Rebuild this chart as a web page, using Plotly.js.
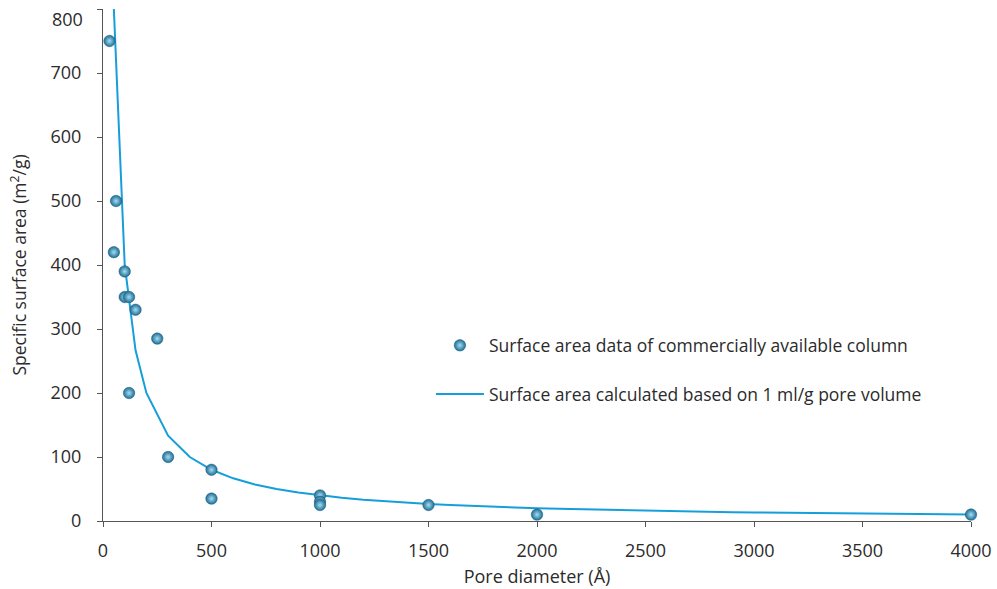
<!DOCTYPE html>
<html>
<head>
<meta charset="utf-8">
<script src="https://cdn.plot.ly/plotly-3.0.1.min.js"></script>
<style>html,body{margin:0;padding:0;background:#fff;}#chart{width:997px;height:589px;}</style>
</head>
<body>
<div id="chart"></div>
<script>
// Measured surface area data (pore diameter in Å, surface area in m²/g)
const dataDiameter = [30, 60, 50, 100, 100, 120, 150, 250, 120, 300, 500, 500, 1000, 1000, 1000, 1500, 2000, 4000];
const dataArea     = [750, 500, 420, 390, 350, 350, 330, 285, 200, 100, 80, 35, 40, 30, 25, 25, 10, 10];

// Calculated curve (1 ml/g pore volume)
const calcDiameter = [50, 100, 150, 200, 300, 400, 500, 600, 700, 800, 900, 1000, 1100, 1200, 1300, 1400, 1500, 1600, 1700, 1800, 1900, 2000, 2100, 2200, 2300, 2400, 2500, 2600, 2700, 2800, 2900, 3000, 3100, 3200, 3300, 3400, 3500, 3600, 3700, 3800, 3900, 4000];
const calcArea     = [800, 400, 266.7, 200, 133.3, 100, 80, 66.7, 57.1, 50, 44.4, 40, 36.4, 33.3, 30.8, 28.6, 26.7, 25, 23.5, 22.2, 21.1, 20, 19.0, 18.2, 17.4, 16.7, 16, 15.4, 14.8, 14.3, 13.8, 13.3, 12.9, 12.5, 12.1, 11.8, 11.4, 11.1, 10.8, 10.5, 10.3, 10];

const legendLabels = ['Surface area data of commercially available column', 'Surface area calculated based on 1 ml/g pore volume'];
const xTitle = 'Pore diameter (Å)';
const yTitle = 'Specific surface area (m<sup>2</sup>/g)';
const xTicks = [0, 500, 1000, 1500, 2000, 2500, 3000, 3500, 4000];
const yTicks = [0, 100, 200, 300, 400, 500, 600, 700, 800];
const yTopLabel = '800';

const FONT = '"Open Sans", "Noto Sans", sans-serif';
const TXT = '#2b2b2b';

// top tick label is drawn as an annotation, nudged inside the figure like the reference
const yTickText = yTicks.map(v => v === yTicks[yTicks.length - 1] ? '' : String(v));

const traces = [
  {
    x: calcDiameter, y: calcArea, type: 'scatter', mode: 'lines',
    name: legendLabels[1], legendgroup: 'b', legendrank: 2,
    line: {color: '#159fda', width: 2},
    cliponaxis: true
  },
  {
    x: dataDiameter, y: dataArea, type: 'scatter', mode: 'markers',
    name: legendLabels[0], legendgroup: 'a', legendrank: 1,
    marker: {size: 11.5, color: '#1f6c93', gradient: {type: 'radial', color: '#a2def3'},
             line: {color: '#1d5f80', width: 0.5}},
    cliponaxis: false
  }
];

const layout = {
  width: 997, height: 589,
  margin: {l: 103, r: 26, t: 9, b: 68},
  paper_bgcolor: '#fff', plot_bgcolor: '#fff',
  font: {family: FONT, size: 18, color: TXT},
  showlegend: true,
  legend: {
    x: 0.3778, y: 0.295, xanchor: 'left', yanchor: 'middle',
    font: {family: FONT, size: 17.5, color: TXT},
    tracegroupgap: 23, itemwidth: 48, bgcolor: 'rgba(0,0,0,0)'
  },
  xaxis: {
    range: [0, 4000], tickvals: xTicks,
    showgrid: false, zeroline: false, showline: true, linecolor: '#555', linewidth: 1,
    ticks: 'outside', ticklen: 5, tickcolor: '#555', ticklabelstandoff: 8,
    ticklabeloverflow: 'allow',
    tickfont: {family: FONT, size: 18, color: TXT},
    title: {text: xTitle, font: {family: FONT, size: 18, color: TXT}, standoff: 9}
  },
  yaxis: {
    range: [0, 800], tickvals: yTicks, ticktext: yTickText,
    showgrid: false, zeroline: false, showline: true, linecolor: '#555', linewidth: 1,
    ticks: 'outside', ticklen: 5, tickcolor: '#555', ticklabelstandoff: 12,
    ticklabeloverflow: 'allow',
    tickfont: {family: FONT, size: 18, color: TXT},
    title: {text: yTitle, font: {family: FONT, size: 17.5, color: TXT}, standoff: 19}
  },
  annotations: [{
    text: yTopLabel, xref: 'paper', yref: 'y', x: 0, y: yTicks[yTicks.length - 1],
    xanchor: 'right', yanchor: 'middle', xshift: -18, yshift: -10, showarrow: false,
    font: {family: FONT, size: 18, color: TXT}
  }]
};

Plotly.newPlot('chart', traces, layout, {displayModeBar: false, staticPlot: true});
</script>
</body>
</html>
